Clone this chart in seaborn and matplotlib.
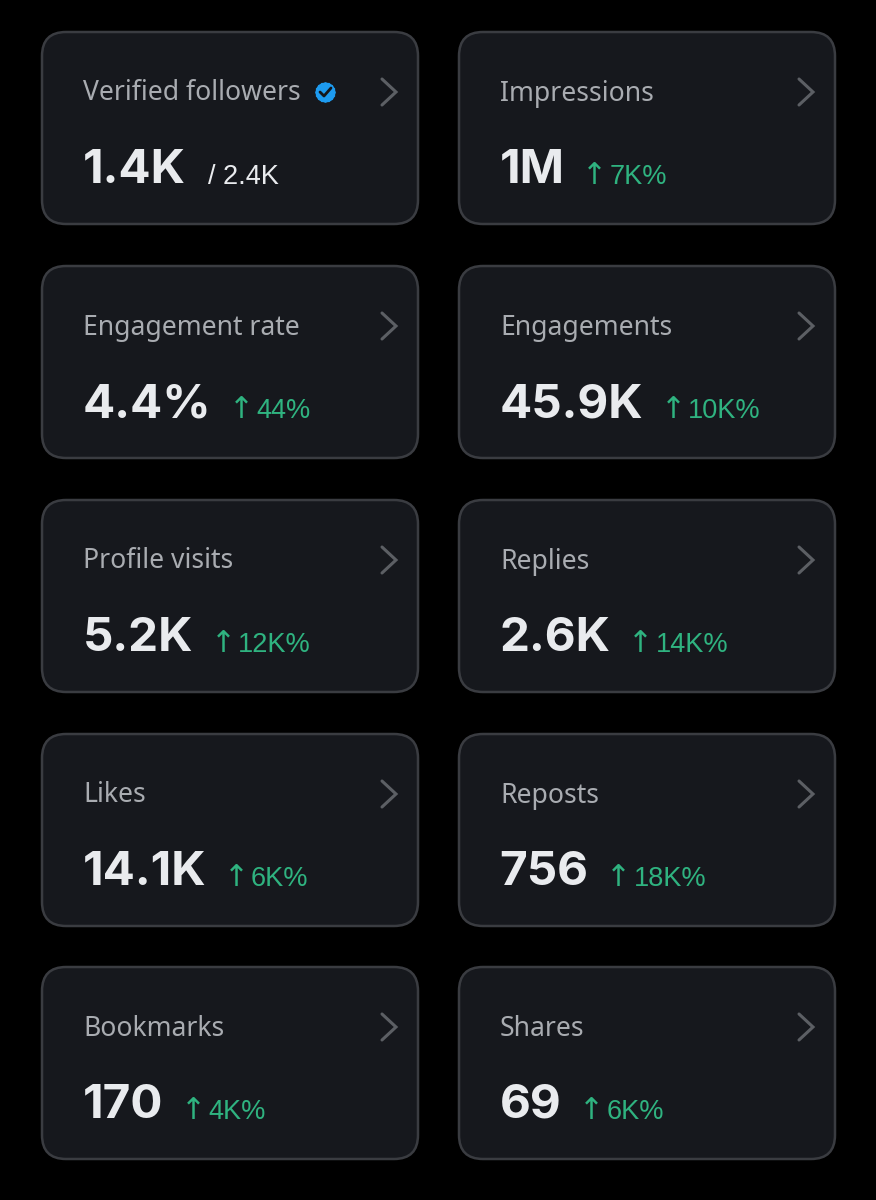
"""
Account analytics cards, dark theme.
"""

import matplotlib.pyplot as plt
import seaborn as sns
from matplotlib.patches import FancyBboxPatch

LEFT_TITLES = ['Verified followers', 'Engagement rate', 'Profile visits', 'Likes', 'Bookmarks']
LEFT_VALUES = ['1.4K', '4.4%', '5.2K', '14.1K', '170']
LEFT_DELTAS = ['2.4K', '44%', '12K%', '6K%', '4K%']

RIGHT_TITLES = ['Impressions', 'Engagements', 'Replies', 'Reposts', 'Shares']
RIGHT_VALUES = ['1M', '45.9K', '2.6K', '756', '69']
RIGHT_DELTAS = ['7K%', '10K%', '14K%', '18K%', '6K%']

CARD_COLOR = '#16181d'
EDGE_COLOR = '#3a3c41'
TITLE_COLOR = '#a9acb1'
VALUE_COLOR = '#e9ebee'
DELTA_COLOR = '#2fb380'
CHEVRON_COLOR = '#5c5f64'

sns.set_theme(style='dark')
plt.rcParams['font.family'] = ['Noto Sans', 'DejaVu Sans']

fig = plt.figure(figsize=(8.76, 12), dpi=100, facecolor='black')
ax = fig.add_axes([0, 0, 1, 1])
ax.set_xlim(0, 876)
ax.set_ylim(1200, 0)
ax.axis('off')


def draw_card(x, y, title, value, delta, is_followers=False):
    ax.add_patch(FancyBboxPatch((x + 24, y + 24), 376 - 48, 192 - 48,
                                boxstyle='round,pad=24,rounding_size=24',
                                facecolor=CARD_COLOR, edgecolor=EDGE_COLOR, linewidth=1.8))

    ax.text(x + 41, y + 68.5, title, color=TITLE_COLOR, fontsize=19.1,
            fontweight='medium', va='baseline', ha='left')
    value_text = ax.text(x + 40.5, y + 151, value, color=VALUE_COLOR, fontsize=34.3,
                         fontweight='bold', family=['Inter'],
                         va='baseline', ha='left')

    # chevron on the right of the card
    ax.plot([x + 340, x + 354, x + 340], [y + 47, y + 60, y + 73], color=CHEVRON_COLOR,
            linewidth=2.2, solid_joinstyle='miter')

    fig.canvas.draw()
    inv = ax.transData.inverted()
    value_end = inv.transform(value_text.get_window_extent().corners()[-1])[0]

    if is_followers:
        badge_x = x + 283
        for marker in [(8, 0, 0), (8, 0, 22.5)]:
            ax.scatter([badge_x], [y + 60], s=225, marker=marker, color='#1d9bf0', zorder=3,
                       linewidths=0)
        ax.plot([badge_x - 5, badge_x - 1, badge_x + 6], [y + 60, y + 64, y + 56],
                color='#14171c', linewidth=2, zorder=4)
        ax.text(value_end + 22, y + 152, '/ ' + delta, color=VALUE_COLOR, fontsize=19.5,
                family=['Liberation Sans'], va='baseline', ha='left')
    else:
        ax.text(value_end + 30, y + 152, '↑', color=DELTA_COLOR, fontsize=21.5,
                family=['DejaVu Sans'], va='baseline', ha='center')
        ax.text(value_end + 45, y + 152, delta, color=DELTA_COLOR, fontsize=19.5,
                family=['Liberation Sans'], va='baseline', ha='left')


CARD_TOPS = [32, 266, 500, 734, 967]

for i, top in enumerate(CARD_TOPS):
    draw_card(42, top, LEFT_TITLES[i], LEFT_VALUES[i], LEFT_DELTAS[i], is_followers=(i == 0))
    draw_card(459, top, RIGHT_TITLES[i], RIGHT_VALUES[i], RIGHT_DELTAS[i])

fig.savefig('out.png', dpi=100, facecolor='black')
plt.close(fig)
